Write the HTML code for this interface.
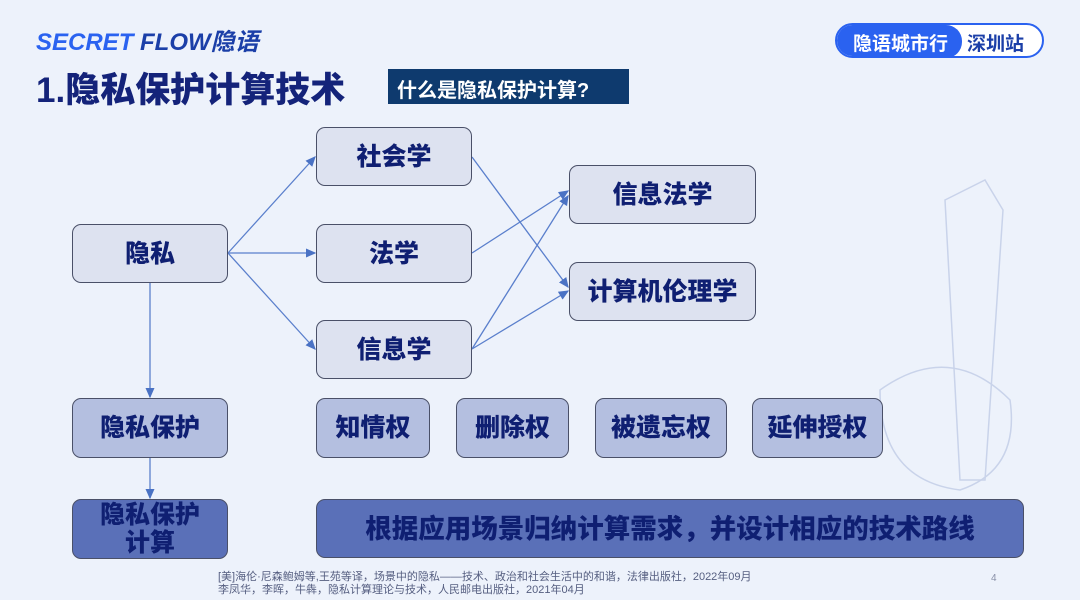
<!DOCTYPE html>
<html><head><meta charset="utf-8"><style>
*{margin:0;padding:0;box-sizing:border-box}
body{width:1080px;height:608px;background:#fff;position:relative;overflow:hidden;font-family:"Liberation Sans","Noto Sans CJK SC",sans-serif}
#bg{position:absolute;left:0;top:0;width:1080px;height:600px;background:#edf2fb}
.b{position:absolute;border:1.5px solid #4a5068;border-radius:9px;background:#dde2f0;color:#0f1f72;font-weight:900;font-size:25px;display:flex;align-items:center;justify-content:center;text-align:center;line-height:26px}
.m{background:#b4bfe0}
.d{background:#5a70b8}
.t{position:absolute;white-space:nowrap}
</style></head><body>
<div id="bg"></div>
<div class="t" style="left:36px;top:22px;font-size:24px;font-style:italic;font-weight:bold;color:#2a62f0">SECRET <span style="color:#1b3fa8">FLOW隐语</span></div>
<div class="t" style="left:36px;top:62px;font-size:35px;font-weight:900;color:#14237a">1.隐私保护计算技术</div>
<div class="t" style="left:388px;top:69px;width:241px;height:35px;background:#0e3a6e;color:#fff;font-size:20px;font-weight:bold;padding:5px 0 0 9px">什么是隐私保护计算?</div>
<div class="t" style="left:835px;top:23px;width:209px;height:35px;border:2px solid #2a62f0;border-radius:18px;background:#fff;overflow:hidden">
<div style="position:absolute;left:0;top:0;width:125px;height:33px;background:#2a62f0;border-radius:0 16px 16px 0;color:#fff;font-size:19px;font-weight:bold;padding:4px 0 0 16px">隐语城市行</div>
<div style="position:absolute;left:130px;top:4px;color:#1b3fa8;font-size:19px;font-weight:bold">深圳站</div></div>
<svg style="position:absolute;left:0;top:0" width="1080" height="608">
<defs><marker id="a" markerWidth="8" markerHeight="8" refX="7" refY="4" orient="auto"><path d="M0,0.5 L8,4 L0,7.5z" fill="#4a72c4"/></marker></defs>
<g stroke="#5a7fcc" stroke-width="1.3" fill="none" marker-end="url(#a)">
<line x1="228" y1="253" x2="315" y2="157"/>
<line x1="228" y1="253" x2="315" y2="253"/>
<line x1="228" y1="253" x2="315" y2="349"/>
<line x1="472" y1="157" x2="568" y2="287"/>
<line x1="472" y1="253" x2="568" y2="191"/>
<line x1="472" y1="349" x2="568" y2="196"/>
<line x1="472" y1="349" x2="568" y2="291"/>
<line x1="150" y1="283" x2="150" y2="397"/>
<line x1="150" y1="458" x2="150" y2="498"/>
</g>
<g stroke="#c9d3ea" stroke-width="1.5" fill="none">
<path d="M945 200 L985 180 L1003 210 L985 480 L960 480 L945 200z"/>
<path d="M880 390 Q950 340 1010 400 Q1020 470 960 490 Q880 480 880 390z"/>
</g>
</svg>
<div class="b" style="left:72px;top:224px;width:156px;height:59px">隐私</div>
<div class="b" style="left:316px;top:127px;width:156px;height:59px">社会学</div>
<div class="b" style="left:316px;top:224px;width:156px;height:59px">法学</div>
<div class="b" style="left:316px;top:320px;width:156px;height:59px">信息学</div>
<div class="b" style="left:569px;top:165px;width:187px;height:59px">信息法学</div>
<div class="b" style="left:569px;top:262px;width:187px;height:59px">计算机伦理学</div>
<div class="b m" style="left:72px;top:398px;width:156px;height:60px">隐私保护</div>
<div class="b m" style="left:316px;top:398px;width:114px;height:60px">知情权</div>
<div class="b m" style="left:456px;top:398px;width:113px;height:60px">删除权</div>
<div class="b m" style="left:595px;top:398px;width:132px;height:60px">被遗忘权</div>
<div class="b m" style="left:752px;top:398px;width:131px;height:60px">延伸授权</div>
<div class="b d" style="left:72px;top:499px;width:156px;height:60px;line-height:28px">隐私保护<br>计算</div>
<div class="b d" style="left:316px;top:499px;width:708px;height:59px;font-size:26.5px">根据应用场景归纳计算需求，并设计相应的技术路线</div>
<div class="t" style="left:218px;top:571px;font-size:11px;color:#555e80;line-height:13px">[美]海伦·尼森鲍姆等,王苑等译，场景中的隐私——技术、政治和社会生活中的和谐，法律出版社，2022年09月<br>李凤华，李晖，牛犇，隐私计算理论与技术，人民邮电出版社，2021年04月</div>
<div class="t" style="left:991px;top:573px;font-size:10px;color:#8890a8">4</div>
</body></html>
